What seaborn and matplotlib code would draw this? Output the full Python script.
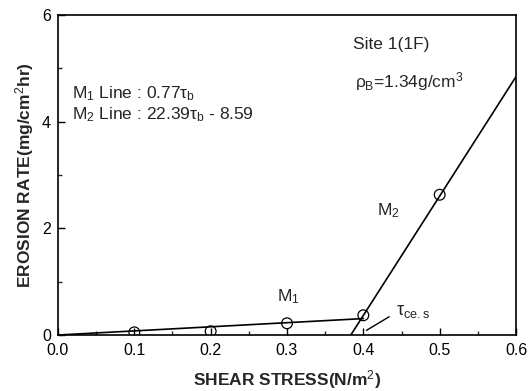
import matplotlib
matplotlib.use("Agg")
import matplotlib.pyplot as plt
import seaborn as sns
import pandas as pd
from matplotlib.ticker import MultipleLocator
from matplotlib import font_manager

# ---- data ----
shear_stress = [0.1, 0.2, 0.3, 0.4, 0.5]
erosion_rate = [0.05, 0.07, 0.22, 0.37, 2.63]
m1_x = [0.0, 0.4]
m1_y = [0.0, 0.308]
m2_x = [0.3836, 0.6]
m2_y = [0.0, 4.844]
x_tick_labels = ["0.0", "0.1", "0.2", "0.3", "0.4", "0.5", "0.6"]
y_tick_labels = ["0", "2", "4", "6"]

sns.set_theme(style="ticks")
names = {f.name for f in font_manager.fontManager.ttflist}
fam = "Liberation Sans" if "Liberation Sans" in names else "DejaVu Sans"
narrow = "Liberation Sans Narrow" if "Liberation Sans Narrow" in names else fam
plt.rcParams['font.family'] = [fam, 'DejaVu Sans']
plt.rcParams['mathtext.fontset'] = 'custom'
plt.rcParams['mathtext.rm'] = fam
plt.rcParams['mathtext.it'] = fam
plt.rcParams['mathtext.bf'] = fam + ':bold'

fig = plt.figure(figsize=(5.30, 3.91), dpi=100)
ax = fig.add_axes([0.1094, 0.1432, 0.8642, 0.8184])

df_pts = pd.DataFrame({"x": shear_stress, "y": erosion_rate})
df_m1 = pd.DataFrame({"x": m1_x, "y": m1_y})
df_m2 = pd.DataFrame({"x": m2_x, "y": m2_y})

sns.lineplot(data=df_m1, x="x", y="y", ax=ax, color="black", lw=1.2)
sns.lineplot(data=df_m2, x="x", y="y", ax=ax, color="black", lw=1.2)
sns.scatterplot(data=df_pts, x="x", y="y", ax=ax, marker="o", s=60,
                facecolor="none", edgecolor="black", linewidth=0.9, zorder=5)

ax.set_xlim(0, 0.6)
ax.set_ylim(0, 6)
ax.set_xticks([0, 0.1, 0.2, 0.3, 0.4, 0.5, 0.6])
ax.set_xticklabels(x_tick_labels)
ax.set_yticks([0, 2, 4, 6])
ax.set_yticklabels(y_tick_labels)
ax.xaxis.set_minor_locator(MultipleLocator(0.05))
ax.yaxis.set_minor_locator(MultipleLocator(1))
ax.tick_params(which="major", direction="in", length=5, width=1, labelsize=11.5, colors="black")
ax.tick_params(axis="x", which="major", pad=6)
ax.tick_params(axis="y", which="major", pad=5)
ax.tick_params(which="minor", direction="in", length=3, width=1)
for s in ax.spines.values():
    s.set_linewidth(1.2)
    s.set_color("black")

ax.set_xlabel("SHEAR STRESS(N/m$^2$)", fontsize=12.5, fontweight="bold", family=[narrow, 'DejaVu Sans'], labelpad=7)
ax.set_ylabel("EROSION RATE(mg/cm$^2$hr)", fontsize=12.5, fontweight="bold", family=[narrow, 'DejaVu Sans'], labelpad=4)

fs = 12.5
ax.text(0.018, 4.53, r"M$_1$ Line : 0.77$\tau_b$", fontsize=fs, va="center", ha="left")
ax.text(0.018, 4.13, r"M$_2$ Line : 22.39$\tau_b$ - 8.59", fontsize=fs, va="center", ha="left")
ax.text(0.387, 5.45, "Site 1(1F)", fontsize=fs, va="center", ha="left")
ax.text(0.389, 4.76, r"$\rho_B$=1.34g/cm$^3$", fontsize=fs, va="center", ha="left")
ax.text(0.418, 2.33, "M$_2$", fontsize=fs, va="center", ha="left")
ax.text(0.287, 0.72, "M$_1$", fontsize=fs, va="center", ha="left")
ax.text(0.443, 0.45, r"$\tau_{ce.s}$", fontsize=13, va="center", ha="left")
ax.annotate("", xy=(0.401, 0.06), xytext=(0.437, 0.37),
            arrowprops=dict(arrowstyle="-", color="black", lw=1.0))

fig.savefig("out.png", dpi=100)
